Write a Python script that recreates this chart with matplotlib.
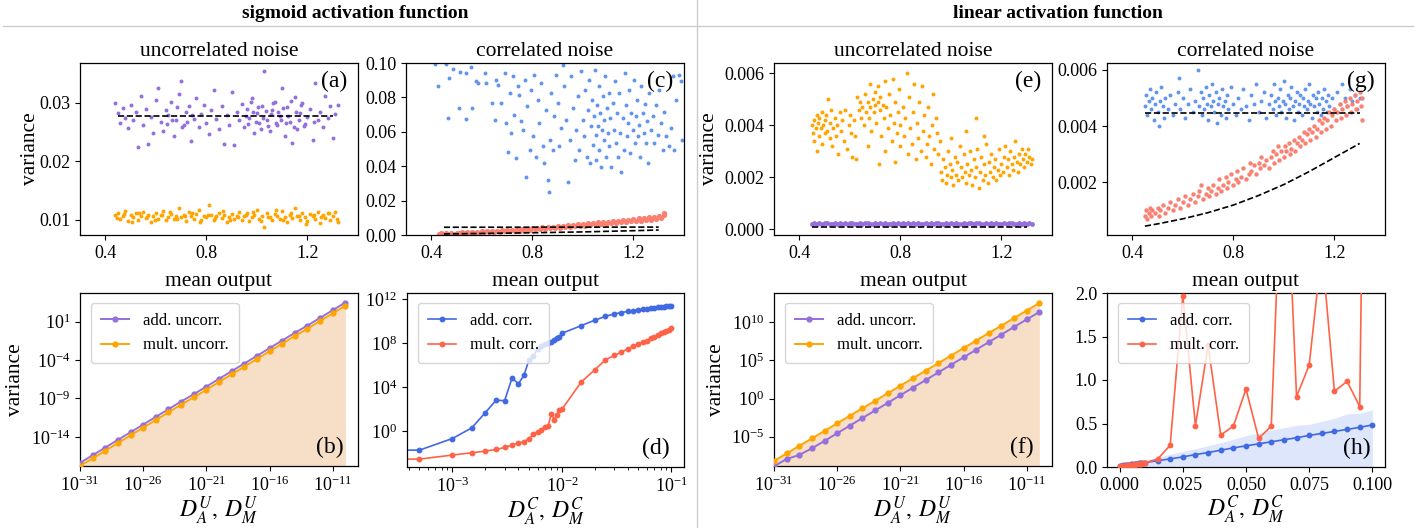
import numpy as np
import matplotlib
matplotlib.use("Agg")
import matplotlib.pyplot as plt
from matplotlib.lines import Line2D
from matplotlib.ticker import NullLocator, FixedLocator, LogFormatterSciNotation

plt.rcParams['font.family'] = ['Liberation Serif', 'DejaVu Serif']
plt.rcParams['mathtext.fontset'] = 'stix'

# ---------------- data ----------------
A_PURPLE = [(.44,.0300),(.45,.0282),(.46,.0265),(.47,.0291),(.48,.0274),(.49,.0257),(.50,.0296),(.51,.0270),(.52,.0284),(.53,.0225),(.54,.0312),(.55,.0262),(.56,.0290),(.57,.0229),(.58,.0276),(.59,.0249),(.60,.0305),(.61,.0326),(.62,.0268),(.63,.0252),(.64,.0288),(.645,.0263),(.65,.0279),(.66,.0301),(.665,.0271),(.67,.0243),(.68,.0270),(.685,.0292),(.69,.0315),(.70,.0338),(.705,.0258),(.71,.0262),(.72,.0284),(.725,.0267),(.73,.0295),(.74,.0234),(.745,.0279),(.75,.0272),(.76,.0309),(.77,.0258),(.78,.0281),(.79,.0296),(.80,.0266),(.81,.0246),(.82,.0288),(.83,.0321),(.84,.0272),(.85,.0255),(.86,.0294),(.87,.0230),(.88,.0279),(.89,.0262),(.90,.0318),(.91,.0227),(.92,.0284),(.93,.0270),(.94,.0298),(.95,.0258),(.955,.0277),(.96,.0290),(.965,.0263),(.97,.0274),(.975,.0302),(.98,.0308),(.985,.0285),(.99,.0248),(.995,.0268),(1.00,.0282),(1.005,.0293),(1.01,.0265),(1.015,.0256),(1.02,.0295),(1.025,.0274),(1.03,.0355),(1.035,.0286),(1.04,.0270),(1.045,.0261),(1.05,.0252),(1.055,.0280),(1.06,.0287),(1.065,.0299),(1.07,.0302),(1.075,.0266),(1.08,.0262),(1.085,.0284),(1.09,.0278),(1.095,.0271),(1.10,.0326),(1.105,.0291),(1.11,.0243),(1.115,.0265),(1.12,.0292),(1.125,.0277),(1.13,.0268),(1.135,.0303),(1.14,.0231),(1.145,.0258),(1.15,.0310),(1.155,.0284),(1.16,.0256),(1.165,.0270),(1.17,.0283),(1.175,.0296),(1.18,.0300),(1.185,.0261),(1.19,.0264),(1.20,.0276),(1.21,.0290),(1.22,.0236),(1.225,.0268),(1.23,.0334),(1.24,.0270),(1.25,.0285),(1.26,.0258),(1.27,.0312),(1.28,.0274),(1.29,.0295),(1.30,.0240),(1.31,.0280),(1.32,.0296)]
A_ORANGE = [(.44,.0108),(.45,.0112),(.46,.0101),(.47,.0106),(.48,.0115),(.49,.0098),(.50,.0109),(.51,.0104),(.52,.0111),(.53,.0100),(.54,.0107),(.55,.0113),(.56,.0103),(.57,.0109),(.58,.0097),(.59,.0106),(.60,.0111),(.61,.0102),(.62,.0108),(.63,.0115),(.64,.0099),(.65,.0105),(.66,.0110),(.67,.0101),(.68,.0107),(.69,.0121),(.70,.0104),(.71,.0109),(.72,.0098),(.73,.0113),(.74,.0106),(.75,.0102),(.76,.0110),(.77,.0117),(.78,.0100),(.79,.0107),(.80,.0104),(.81,.0126),(.82,.0109),(.83,.0099),(.84,.0106),(.85,.0112),(.86,.0103),(.87,.0108),(.88,.0096),(.89,.0105),(.90,.0110),(.91,.0101),(.92,.0107),(.93,.0114),(.94,.0100),(.95,.0106),(.96,.0111),(.97,.0098),(.98,.0104),(.99,.0109),(1.00,.0116),(1.01,.0102),(1.02,.0107),(1.03,.0088),(1.04,.0112),(1.05,.0104),(1.06,.0099),(1.07,.0110),(1.08,.0106),(1.09,.0101),(1.10,.0115),(1.11,.0105),(1.12,.0097),(1.13,.0109),(1.14,.0103),(1.15,.0121),(1.16,.0107),(1.17,.0100),(1.18,.0112),(1.19,.0104),(1.20,.0098),(1.21,.0110),(1.22,.0106),(1.23,.0101),(1.24,.0114),(1.25,.0095),(1.26,.0108),(1.27,.0103),(1.28,.0111),(1.29,.0099),(1.30,.0106),(1.31,.0113),(1.32,.0096),(.445,.0103),(.475,.0110),(.505,.0097),(.535,.0111),(.565,.0105),(.595,.0100),(.625,.0109),(.655,.0113),(.685,.0101),(.715,.0106),(.745,.0111),(.775,.0096),(.805,.0108),(.835,.0103),(.865,.0115),(.895,.0100),(.925,.0104),(.955,.0108),(.985,.0113),(1.015,.0098),(1.045,.0105),(1.075,.0117),(1.105,.0100),(1.135,.0111),(1.165,.0106),(1.195,.0093),(1.225,.0109),(1.255,.0104),(1.285,.0112),(1.315,.0101)]
A_DASH_X = [0.45, 1.30]
A_DASH_Y = [0.0277, 0.0277]

C_BLUE = [(.413,.0996),(.426,.0868),(.459,.0996),(.466,.0680),(.472,.0913),(.486,.0965),(.508,.0738),(.512,.0946),(.536,.0942),(.537,.0674),(.558,.0977),(.561,.0738),(.578,.0893),(.584,.0883),(.611,.0942),(.617,.0883),(.641,.0767),(.654,.0670),(.657,.0903),(.664,.0874),(.677,.0767),(.690,.0942),(.696,.0650),(.703,.0485),(.710,.0825),(.716,.0592),(.723,.0922),(.729,.0699),(.736,.0447),(.743,.0864),(.749,.0816),(.756,.0660),(.762,.0612),(.769,.0899),(.775,.0340),(.779,.0751),(.789,.0495),(.795,.0845),(.802,.0573),(.808,.0932),(.815,.0456),(.822,.0786),(.828,.0650),(.835,.0883),(.841,.0515),(.848,.0417),(.855,.0728),(.861,.0320),(.865,.0252),(.868,.0553),(.874,.0825),(.881,.0495),(.887,.0689),(.894,.0932),(.901,.0767),(.907,.0515),(.914,.0621),(.920,.0990),(.927,.0864),(.934,.0670),(.940,.0311),(.947,.0553),(.953,.0922),(.960,.0738),(.967,.0437),(.973,.0612),(.980,.0806),(.986,.0495),(.993,.0951),(1.000,.0670),(1.006,.0573),(1.010,.0845),(1.015,.0456),(1.019,.0728),(1.026,.0903),(1.028,.0417),(1.032,.0631),(1.036,.0786),(1.039,.0524),(1.043,.0689),(1.047,.0961),(1.050,.0583),(1.052,.0437),(1.056,.0757),(1.059,.0631),(1.063,.0864),(1.065,.0495),(1.068,.0708),(1.072,.0398),(1.076,.0612),(1.079,.0806),(1.082,.0553),(1.085,.0670),(1.089,.0922),(1.092,.0456),(1.096,.0738),(1.098,.0592),(1.102,.0825),(1.105,.0515),(1.109,.0680),(1.113,.0398),(1.118,.0767),(1.122,.0612),(1.126,.0893),(1.131,.0534),(1.135,.0708),(1.139,.0456),(1.144,.0825),(1.148,.0592),(1.152,.0369),(1.158,.0680),(1.162,.0495),(1.165,.0942),(1.171,.0757),(1.175,.0573),(1.179,.0650),(1.184,.0845),(1.188,.0476),(1.192,.0708),(1.197,.0612),(1.201,.0903),(1.205,.0534),(1.210,.0689),(1.214,.0786),(1.218,.0573),(1.223,.0641),(1.227,.0456),(1.231,.0864),(1.237,.0708),(1.241,.0592),(1.245,.0762),(1.250,.0534),(1.254,.0660),(1.258,.0417),(1.263,.0825),(1.270,.0612),(1.276,.0689),(1.283,.0534),(1.289,.0757),(1.296,.0583),(1.302,.0845),(1.309,.0650),(1.316,.0495),(1.322,.0718),(1.329,.0573),(1.339,.0515),(1.349,.0621),(1.355,.0922),(1.362,.0495),(1.368,.0786),(1.379,.0932),(1.388,.0893),(1.392,.0553)]
C_RED = [(.43,.0006),(.44,.0013),(.45,.0004),(.46,.0011),(.47,.0007),(.48,.0014),(.49,.0007),(.50,.0013),(.51,.0009),(.52,.0016),(.53,.0009),(.54,.0015),(.55,.0011),(.56,.0018),(.57,.0012),(.58,.0018),(.59,.0014),(.60,.0021),(.61,.0015),(.62,.0021),(.63,.0017),(.64,.0024),(.65,.0018),(.66,.0025),(.67,.0020),(.68,.0027),(.69,.0021),(.70,.0029),(.71,.0023),(.72,.0031),(.73,.0025),(.74,.0033),(.75,.0026),(.76,.0035),(.77,.0028),(.78,.0037),(.79,.0030),(.80,.0039),(.81,.0032),(.82,.0042),(.83,.0034),(.84,.0044),(.85,.0036),(.86,.0047),(.87,.0039),(.88,.0049),(.89,.0041),(.90,.0052),(.91,.0043),(.92,.0054),(.93,.0046),(.94,.0057),(.95,.0048),(.96,.0060),(.97,.0051),(.98,.0062),(.99,.0053),(1.00,.0065),(1.01,.0055),(1.02,.0067),(1.03,.0058),(1.04,.0070),(1.05,.0060),(1.06,.0073),(1.07,.0063),(1.08,.0075),(1.09,.0066),(1.10,.0078),(1.11,.0068),(1.12,.0081),(1.13,.0071),(1.14,.0084),(1.15,.0074),(1.16,.0087),(1.17,.0076),(1.18,.0090),(1.19,.0079),(1.20,.0093),(1.21,.0082),(1.22,.0096),(1.23,.0084),(1.24,.0099),(1.25,.0087),(1.26,.0102),(1.27,.0090),(1.28,.0105),(1.29,.0093),(1.30,.0108),(1.31,.0096),(1.32,.0115),(1.32,.0130)]
C_DASH1_X = [0.45, 1.30]
C_DASH1_Y = [0.0045, 0.0046]
C_DASH2_X = [0.45, 0.60, 0.80, 1.00, 1.20, 1.30]
C_DASH2_Y = [0.0006, 0.0009, 0.0013, 0.0018, 0.0025, 0.0029]

E_ORANGE = [(.45,.0040),(.455,.0037),(.46,.0042),(.46,.0034),(.465,.0039),(.47,.0044),(.47,.0030),(.475,.0041),(.48,.0036),(.48,.0043),(.485,.0039),(.49,.0045),(.49,.0033),(.495,.0040),(.50,.0037),(.50,.0042),(.505,.0044),(.51,.0038),(.515,.0050),(.52,.0035),(.52,.0041),(.525,.0046),(.53,.0032),(.535,.0039),(.54,.0043),(.545,.0036),(.55,.0040),(.555,.0029),(.56,.0045),(.565,.0038),(.57,.0042),(.575,.0034),(.58,.0046),(.59,.0031),(.595,.0040),(.60,.0044),(.605,.0037),(.61,.0028),(.615,.0042),(.62,.0036),(.625,.0027),(.63,.0051),(.635,.0046),(.64,.0049),(.645,.0043),(.65,.0047),(.655,.0040),(.66,.0052),(.665,.0045),(.67,.0032),(.67,.0049),(.675,.0043),(.68,.0056),(.68,.0047),(.685,.0038),(.69,.0050),(.695,.0045),(.70,.0053),(.70,.0048),(.705,.0041),(.71,.0055),(.71,.0049),(.715,.0025),(.72,.0046),(.72,.0051),(.725,.0036),(.73,.0048),(.735,.0043),(.74,.0057),(.74,.0030),(.745,.0047),(.75,.0039),(.755,.0052),(.76,.0044),(.765,.0034),(.77,.0058),(.775,.0041),(.78,.0049),(.78,.0026),(.785,.0037),(.79,.0045),(.795,.0054),(.80,.0032),(.80,.0040),(.81,.0047),(.815,.0036),(.82,.0043),(.825,.0060),(.83,.0029),(.835,.0051),(.84,.0039),(.845,.0033),(.85,.0045),(.855,.0056),(.86,.0027),(.865,.0041),(.87,.0035),(.875,.0049),(.88,.0030),(.885,.0055),(.89,.0038),(.895,.0044),(.90,.0028),(.905,.0033),(.91,.0047),(.915,.0036),(.92,.0025),(.925,.0040),(.93,.0052),(.935,.0031),(.94,.0043),(.945,.0037),(.95,.0029),(.955,.0034),(.96,.0022),(.965,.0019),(.97,.0027),(.975,.0024),(.98,.0018),(.985,.0021),(.99,.0030),(.995,.0025),(1.00,.0020),(1.00,.0035),(1.005,.0023),(1.01,.0017),(1.015,.0028),(1.02,.0021),(1.025,.0026),(1.03,.0019),(1.035,.0032),(1.04,.0024),(1.045,.0020),(1.05,.0029),(1.055,.0022),(1.06,.0038),(1.06,.0018),(1.065,.0025),(1.07,.0021),(1.075,.0030),(1.08,.0023),(1.085,.0017),(1.09,.0027),(1.095,.0020),(1.10,.0024),(1.10,.0043),(1.105,.0031),(1.11,.0016),(1.115,.0022),(1.12,.0028),(1.125,.0019),(1.13,.0025),(1.13,.0036),(1.135,.0021),(1.14,.0033),(1.145,.0018),(1.15,.0026),(1.155,.0022),(1.16,.0029),(1.165,.0020),(1.17,.0024),(1.175,.0027),(1.18,.0019),(1.185,.0023),(1.19,.0031),(1.195,.0021),(1.20,.0025),(1.205,.0022),(1.21,.0028),(1.215,.0032),(1.22,.0024),(1.225,.0027),(1.23,.0021),(1.235,.0030),(1.24,.0025),(1.245,.0023),(1.25,.0028),(1.255,.0034),(1.26,.0026),(1.265,.0022),(1.27,.0029),(1.275,.0025),(1.28,.0031),(1.285,.0027),(1.29,.0024),(1.295,.0029),(1.30,.0026),(1.305,.0031),(1.31,.0028),(1.315,.0025),(1.32,.0027)]
E_PURPLE_X = [.45,.46,.47,.48,.49,.50,.51,.52,.53,.54,.55,.56,.57,.58,.59,.60,.61,.62,.63,.64,.65,.66,.67,.68,.69,.70,.71,.72,.73,.74,.75,.76,.77,.78,.79,.80,.81,.82,.83,.84,.85,.86,.87,.88,.89,.90,.91,.92,.93,.94,.95,.96,.97,.98,.99,1.00,1.01,1.02,1.03,1.04,1.05,1.06,1.07,1.08,1.09,1.10,1.11,1.12,1.13,1.14,1.15,1.16,1.17,1.18,1.19,1.20,1.21,1.22,1.23,1.24,1.25,1.26,1.27,1.28,1.29,1.30,1.31,1.32]
E_PURPLE_Y = [.000215,.000228,.000205,.000232,.000212,.000225,.000238,.000208,.000220,.000231,.000203,.000226,.000214,.000235,.000210,.000223,.000229,.000206,.000218,.000236,.000211,.000224,.000230,.000204,.000221,.000233,.000213,.000227,.000209,.000234,.000219,.000207,.000228,.000216,.000237,.000212,.000225,.000203,.000231,.000217,.000226,.000210,.000234,.000222,.000206,.000229,.000215,.000236,.000211,.000224,.000230,.000205,.000219,.000233,.000213,.000227,.000208,.000235,.000220,.000214,.000231,.000207,.000225,.000238,.000212,.000223,.000229,.000204,.000218,.000234,.000216,.000226,.000209,.000232,.000221,.000213,.000237,.000210,.000224,.000228,.000206,.000219,.000235,.000215,.000227,.000211,.000233,.000222]
E_DASH_X = [0.45, 1.30]
E_DASH_Y = [0.00007, 0.00007]

G_BLUE = [(.45,.0047),(.455,.0051),(.46,.0044),(.465,.0049),(.47,.0053),(.475,.0046),(.48,.0050),(.485,.0042),(.49,.0048),(.495,.0052),(.50,.0045),(.505,.0040),(.51,.0049),(.515,.0054),(.52,.0047),(.525,.0043),(.53,.0050),(.54,.0046),(.55,.0051),(.56,.0044),(.57,.0048),(.58,.0052),(.585,.0057),(.59,.0046),(.60,.0050),(.61,.0043),(.62,.0048),(.63,.0053),(.64,.0045),(.65,.0049),(.66,.0060),(.665,.0047),(.67,.0052),(.675,.0044),(.68,.0050),(.685,.0046),(.69,.0054),(.695,.0048),(.70,.0042),(.705,.0051),(.71,.0047),(.715,.0055),(.72,.0049),(.725,.0045),(.73,.0052),(.735,.0041),(.74,.0048),(.745,.0050),(.75,.0044),(.755,.0053),(.76,.0047),(.765,.0049),(.77,.0043),(.775,.0051),(.78,.0046),(.79,.0054),(.80,.0048),(.81,.0044),(.82,.0050),(.83,.0046),(.84,.0053),(.85,.0047),(.86,.0042),(.87,.0051),(.88,.0048),(.89,.0055),(.90,.0045),(.91,.0049),(.92,.0052),(.93,.0043),(.94,.0048),(.95,.0051),(.955,.0046),(.96,.0055),(.965,.0049),(.97,.0044),(.975,.0050),(.98,.0047),(.985,.0053),(.99,.0045),(.995,.0049),(1.00,.0056),(1.005,.0048),(1.01,.0043),(1.015,.0051),(1.02,.0046),(1.025,.0050),(1.03,.0054),(1.035,.0047),(1.04,.0042),(1.045,.0049),(1.05,.0052),(1.055,.0045),(1.06,.0048),(1.065,.0051),(1.07,.0044),(1.075,.0050),(1.08,.0047),(1.085,.0053),(1.09,.0046),(1.095,.0049),(1.10,.0055),(1.105,.0048),(1.11,.0043),(1.115,.0051),(1.12,.0047),(1.125,.0050),(1.13,.0045),(1.135,.0052),(1.14,.0048),(1.145,.0044),(1.15,.0050),(1.155,.0046),(1.16,.0053),(1.165,.0049),(1.17,.0045),(1.175,.0051),(1.18,.0047),(1.19,.0050),(1.20,.0046),(1.21,.0052),(1.22,.0048),(1.23,.0055),(1.24,.0050),(1.25,.0047),(1.26,.0053),(1.27,.0049),(1.28,.0051),(1.29,.0046),(1.30,.0050)]
G_RED = [(.45,.0008),(.455,.0010),(.46,.0007),(.465,.0009),(.47,.0011),(.475,.0008),(.48,.0010),(.49,.0009),(.50,.0011),(.505,.0008),(.51,.0010),(.52,.0012),(.53,.0009),(.54,.0011),(.55,.0013),(.56,.0010),(.57,.0012),(.58,.0014),(.59,.0011),(.60,.0013),(.61,.0015),(.62,.0012),(.63,.0014),(.64,.0016),(.65,.0013),(.66,.0015),(.665,.0017),(.67,.0019),(.68,.0014),(.69,.0016),(.70,.0018),(.705,.0015),(.71,.0017),(.72,.0019),(.73,.0016),(.74,.0018),(.745,.0021),(.75,.0017),(.76,.0019),(.77,.0022),(.775,.0018),(.78,.0020),(.79,.0023),(.80,.0019),(.81,.0021),(.815,.0024),(.82,.0020),(.83,.0022),(.84,.0025),(.85,.0021),(.86,.0023),(.865,.0027),(.87,.0024),(.88,.0026),(.89,.0023),(.90,.0027),(.905,.0025),(.91,.0029),(.92,.0026),(.93,.0028),(.94,.0025),(.95,.0029),(.955,.0031),(.96,.0027),(.97,.0030),(.975,.0033),(.98,.0028),(.99,.0031),(1.00,.0029),(1.005,.0033),(1.01,.0031),(1.02,.0034),(1.025,.0030),(1.03,.0032),(1.04,.0035),(1.045,.0031),(1.05,.0034),(1.06,.0036),(1.065,.0033),(1.07,.0035),(1.08,.0038),(1.085,.0034),(1.09,.0037),(1.10,.0039),(1.105,.0035),(1.11,.0038),(1.12,.0040),(1.125,.0036),(1.13,.0039),(1.14,.0042),(1.145,.0038),(1.15,.0041),(1.16,.0043),(1.165,.0039),(1.17,.0042),(1.18,.0045),(1.185,.0040),(1.19,.0044),(1.20,.0046),(1.205,.0042),(1.21,.0045),(1.22,.0048),(1.225,.0043),(1.23,.0046),(1.24,.0049),(1.245,.0044),(1.25,.0047),(1.26,.0050),(1.265,.0045),(1.27,.0048),(1.28,.0051),(1.285,.0046),(1.29,.0049),(1.30,.0052),(1.305,.0047),(1.31,.0050),(1.31,.0042)]
G_DASH1_X = [0.45, 1.30]
G_DASH1_Y = [0.00445, 0.00445]
G_DASH2_X = [0.45, 0.50, 0.60, 0.70, 0.80, 0.90, 1.00, 1.10, 1.20, 1.30]
G_DASH2_Y = [0.00044, 0.00052, 0.00070, 0.00092, 0.00119, 0.00153, 0.00192, 0.00238, 0.00288, 0.00338]

# mean-output panels, uncorrelated noise (noise strengths 1e-31 ... 1e-10)
D_U = [1e-31, 1e-30, 1e-29, 1e-28, 1e-27, 1e-26, 1e-25, 1e-24, 1e-23, 1e-22, 1e-21,
       1e-20, 1e-19, 1e-18, 1e-17, 1e-16, 1e-15, 1e-14, 1e-13, 1e-12, 1e-11, 1e-10]
B_PURPLE_LOG = [-17.4, -16.4, -15.4, -14.4, -13.4, -12.4, -11.4, -10.4, -9.4, -8.45, -7.45,
                -6.45, -5.45, -4.45, -3.45, -2.45, -1.45, -0.45, 0.5, 1.5, 2.5, 3.5]
B_ORANGE_LOG = [-17.8, -16.8, -15.8, -14.8, -13.8, -12.8, -11.8, -10.8, -9.8, -8.85, -7.85,
                -6.85, -5.85, -4.85, -3.85, -2.85, -1.85, -0.85, 0.1, 1.1, 2.1, 3.1]
F_PURPLE_LOG = [-8.9, -7.94, -7.41, -6.54, -5.57, -4.56, -3.56, -2.56, -1.57, -0.57, 0.43,
                1.43, 2.42, 3.42, 4.42, 5.41, 6.41, 7.41, 8.40, 9.40, 10.39, 11.36]
F_ORANGE_LOG = [-8.2, -7.21, -6.22, -5.24, -4.25, -3.26, -2.27, -1.28, -0.30, 0.69, 1.68,
                2.67, 3.66, 4.64, 5.63, 6.62, 7.61, 8.60, 9.58, 10.57, 11.56, 12.55]

# mean-output panels, correlated noise
D_C = [0, 0.0005, 0.001, 0.0015, 0.002, 0.0025, 0.003, 0.0035, 0.004, 0.0045, 0.005,
       0.0055, 0.006, 0.0065, 0.007, 0.0075, 0.008, 0.0085, 0.009, 0.0095, 0.01,
       0.015, 0.02, 0.025, 0.03, 0.035, 0.04, 0.045, 0.05, 0.055, 0.06, 0.065, 0.07,
       0.075, 0.08, 0.085, 0.09, 0.095, 0.1]
D_BLUE_LOG = [-1.9, -1.76, -0.70, 0.27, 1.67, 2.79, 2.76, 4.82, 4.30, 5.06, 6.48, 6.82, 7.5,
              7.7, 7.9, 8.0, 8.1, 8.25, 8.5, 8.6, 8.9, 9.6, 10.1, 10.45, 10.67, 10.8, 10.9,
              10.97, 11.06, 11.1, 11.15, 11.2, 11.24, 11.27, 11.3, 11.33, 11.36, 11.39, 11.42]
D_RED_LOG = [-2.67, -2.58, -2.21, -2.0, -1.85, -1.70, -1.52, -1.30, -1.12, -1.0, -0.70, -0.33,
             -0.09, 0.12, 0.36, 0.45, 1.58, 1.03, 1.48, 1.88, 1.97, 4.45, 5.58, 6.48, 6.88,
             7.18, 7.48, 7.7, 7.94, 8.09, 8.24, 8.48, 8.6, 8.79, 8.94, 9.06, 9.15, 9.24, 9.39]
H_BLUE = [.012, .014, .016, .018, .020, .022, .024, .025, .027, .029, .031, .033, .035, .037,
          .039, .041, .043, .045, .047, .049, .051, .072, .093, .116, .143, .166, .193, .22,
          .243, .266, .29, .313, .336, .363, .386, .409, .432, .456, .483]
H_BLUE_UPPER = [.012, .016, .019, .022, .025, .028, .031, .034, .037, .040, .043, .046, .049,
                .052, .055, .058, .061, .064, .067, .070, .077, .11, .147, .18, .21, .245, .28,
                .32, .36, .39, .425, .45, .48, .49, .525, .56, .61, .618, .656]
H_RED = [.008, .009, .011, .012, .014, .016, .018, .019, .021, .023, .025, .027, .029, .031,
         .033, .036, .038, .040, .043, .046, .049, .09, .25, 1.97, .475, 1.40, .367, .47, .896,
         .328, .47, 4.2, .81, 1.17, 2.5, .87, .985, .695, 12.0]

# ---------------- styles ----------------
PURPLE = '#9370DB'
ORANGE = '#FFA500'
SC_BLUE = '#6495ED'
SC_RED = '#FA8072'
LN_BLUE = '#4169E1'
LN_RED = '#FF6347'
FILL_PEACH = '#f6dfc6'
FILL_BLUE = '#dde6fa'

W, H = 1416, 528
fig = plt.figure(figsize=(W / 100, H / 100), dpi=100)


def rect(l, r, t, b):
    return [l / W, 1 - b / H, (r - l) / W, (b - t) / H]


TICK_FS = 13
LAB_FS = 15.5
SUB_FS = 15.5
XLAB_FS = 17
LEG_FS = 12
LEG_KW = dict(loc='upper left', fontsize=LEG_FS, borderpad=0.6, handlelength=1.7,
              labelspacing=0.5, bbox_to_anchor=(0.01, 0.99))


def style(ax):
    ax.tick_params(labelsize=TICK_FS, direction='out', length=3.5, width=0.8)
    for s in ax.spines.values():
        s.set_linewidth(0.9)


def panel_label(ax, txt, top=True, x=0.955):
    if top:
        ax.text(x, 0.955, txt, transform=ax.transAxes, ha='right', va='top', fontsize=17)
    else:
        ax.text(x, 0.045, txt, transform=ax.transAxes, ha='right', va='bottom', fontsize=17)


def scat(ax, pts, color, s=8):
    xs, ys = zip(*pts)
    ax.scatter(xs, ys, s=s, color=color, linewidths=0)


ax_a = fig.add_axes(rect(80, 358, 63, 235))
ax_c = fig.add_axes(rect(406, 684, 63, 235))
ax_e = fig.add_axes(rect(774, 1052, 63, 235))
ax_g = fig.add_axes(rect(1107, 1385, 63, 235))
ax_b = fig.add_axes(rect(80, 358, 293, 466))
ax_d = fig.add_axes(rect(407, 684, 293, 467))
ax_f = fig.add_axes(rect(774, 1052, 293, 466))
ax_h = fig.add_axes(rect(1107, 1385, 293, 467))

# (a)
scat(ax_a, A_PURPLE, PURPLE)
scat(ax_a, A_ORANGE, ORANGE)
ax_a.plot(A_DASH_X, A_DASH_Y, 'k--', lw=1.2)
ax_a.set_ylim(0.0074, 0.0368)
ax_a.set_yticks([0.01, 0.02, 0.03])
ax_a.set_ylabel('variance', fontsize=LAB_FS, labelpad=-1)
ax_a.set_title('uncorrelated noise', fontsize=SUB_FS, pad=5)
panel_label(ax_a, '(a)', x=0.962)

# (c)
scat(ax_c, C_BLUE, SC_BLUE)
scat(ax_c, C_RED, SC_RED, s=14)
ax_c.plot(C_DASH1_X, C_DASH1_Y, 'k--', lw=1.2)
ax_c.plot(C_DASH2_X, C_DASH2_Y, 'k--', lw=1.2)
ax_c.set_ylim(0, 0.1)
ax_c.set_yticks([0, 0.02, 0.04, 0.06, 0.08, 0.10])
ax_c.set_yticklabels(['0.00', '0.02', '0.04', '0.06', '0.08', '0.10'])
ax_c.set_title('correlated noise', fontsize=SUB_FS, pad=5)
panel_label(ax_c, '(c)', x=0.962)

# (e)
scat(ax_e, E_ORANGE, ORANGE)
ax_e.scatter(E_PURPLE_X, E_PURPLE_Y, s=12, color=PURPLE, linewidths=0)
ax_e.plot(E_DASH_X, E_DASH_Y, 'k--', lw=1.2)
ax_e.set_ylim(-0.00022, 0.0064)
ax_e.set_yticks([0, 0.002, 0.004, 0.006])
ax_e.set_yticklabels(['0.000', '0.002', '0.004', '0.006'])
ax_e.set_ylabel('variance', fontsize=LAB_FS)
ax_e.set_title('uncorrelated noise', fontsize=SUB_FS, pad=5)
panel_label(ax_e, '(e)', x=0.962)

# (g)
scat(ax_g, G_BLUE, SC_BLUE)
scat(ax_g, G_RED, SC_RED, s=10)
ax_g.plot(G_DASH1_X, G_DASH1_Y, 'k--', lw=1.2)
ax_g.plot(G_DASH2_X, G_DASH2_Y, 'k--', lw=1.2)
ax_g.set_ylim(0.000125, 0.00624)
ax_g.set_yticks([0.002, 0.004, 0.006])
ax_g.set_yticklabels(['0.002', '0.004', '0.006'])
ax_g.set_title('correlated noise', fontsize=SUB_FS, pad=5)
panel_label(ax_g, '(g)', x=0.962)

for ax in (ax_a, ax_c, ax_e, ax_g):
    ax.set_xlim(0.3, 1.4)
    ax.set_xticks([0.4, 0.8, 1.2])
    ax.set_xticklabels(['0.4', '0.8', '1.2'])
    style(ax)


def log_u_axes(ax, plog, olog, ylim, yticks):
    x = np.array(D_U)
    p = 10 ** np.array(plog)
    o = 10 ** np.array(olog)
    ax.fill_between(x, 1e-40, o, color=FILL_PEACH, lw=0, zorder=1)
    hp, = ax.plot(x, p, '-o', color=PURPLE, ms=3.5, lw=1.4, label='add. uncorr.', zorder=3)
    ho, = ax.plot(x, o, '-o', color=ORANGE, ms=3.5, lw=1.4, label='mult. uncorr.', zorder=3)
    ax.set_xscale('log')
    ax.set_yscale('log')
    ax.set_xlim(1e-31, 10 ** -9.0)
    ax.set_ylim(*ylim)
    ax.xaxis.set_major_locator(FixedLocator([1e-31, 1e-26, 1e-21, 1e-16, 1e-11]))
    ax.yaxis.set_major_locator(FixedLocator(yticks))
    ax.xaxis.set_major_formatter(LogFormatterSciNotation())
    ax.yaxis.set_major_formatter(LogFormatterSciNotation())
    ax.xaxis.set_minor_locator(NullLocator())
    ax.yaxis.set_minor_locator(NullLocator())
    ax.legend(handles=[hp, ho], **LEG_KW)
    ax.set_ylabel('variance', fontsize=LAB_FS)
    ax.set_xlabel(r'$D_A^U,\, D_M^U$', fontsize=XLAB_FS, labelpad=0)
    ax.set_title('mean output', fontsize=SUB_FS, pad=5)
    style(ax)


log_u_axes(ax_b, B_PURPLE_LOG, B_ORANGE_LOG, (10 ** -17.8, 10 ** 4.74),
           [1e-14, 1e-9, 1e-4, 1e1])
panel_label(ax_b, '(b)', top=False, x=0.95)
log_u_axes(ax_f, F_PURPLE_LOG, F_ORANGE_LOG, (10 ** -8.86, 10 ** 13.86),
           [1e-5, 1e0, 1e5, 1e10])
panel_label(ax_f, '(f)', top=False, x=0.935)

# (d)
ax_d.set_xscale('log', nonpositive='clip')
ax_d.set_yscale('log')
hb, = ax_d.plot(D_C, 10 ** np.array(D_BLUE_LOG), '-o', color=LN_BLUE, ms=3.2, lw=1.2,
                label='add. corr.')
hr, = ax_d.plot(D_C, 10 ** np.array(D_RED_LOG), '-o', color=LN_RED, ms=3.2, lw=1.2,
                label='mult. corr.')
ax_d.set_xlim(10 ** -3.415, 10 ** -0.885)
ax_d.set_ylim(10 ** -3.3, 10 ** 12.58)
ax_d.yaxis.set_major_locator(FixedLocator([1e0, 1e4, 1e8, 1e12]))
ax_d.yaxis.set_minor_locator(NullLocator())
ax_d.yaxis.set_major_formatter(LogFormatterSciNotation())
ax_d.legend(handles=[hb, hr], **LEG_KW)
ax_d.set_xlabel(r'$D_A^C,\, D_M^C$', fontsize=XLAB_FS, labelpad=0)
ax_d.set_title('mean output', fontsize=SUB_FS, pad=5)
style(ax_d)
ax_d.tick_params(which='minor', length=2, width=0.6)
panel_label(ax_d, '(d)', top=False, x=0.947)

# (h)
ax_h.fill_between(D_C, 0, H_BLUE_UPPER, color=FILL_BLUE, lw=0, zorder=1)
hb2, = ax_h.plot(D_C, H_BLUE, '-o', color=LN_BLUE, ms=3.2, lw=1.2, label='add. corr.', zorder=3)
hr2, = ax_h.plot(D_C, H_RED, '-o', color=LN_RED, ms=3.2, lw=1.2, label='mult. corr.', zorder=3)
ax_h.set_xlim(-0.005, 0.105)
ax_h.set_ylim(0, 2.0)
ax_h.set_xticks([0, 0.025, 0.05, 0.075, 0.1])
ax_h.set_xticklabels(['0.000', '0.025', '0.050', '0.075', '0.100'])
ax_h.set_yticks([0, 0.5, 1.0, 1.5, 2.0])
ax_h.set_yticklabels(['0.0', '0.5', '1.0', '1.5', '2.0'])
ax_h.legend(handles=[hb2, hr2], **LEG_KW)
ax_h.set_xlabel(r'$D_A^C,\, D_M^C$', fontsize=XLAB_FS, labelpad=0)
ax_h.set_title('mean output', fontsize=SUB_FS, pad=5)
style(ax_h)
panel_label(ax_h, '(h)', top=False, x=0.947)

# figure-level titles and separators
fig.text(355 / W, 1 - 14 / H, 'sigmoid activation function', ha='center', va='center',
         fontsize=14, fontweight='bold')
fig.text(1058 / W, 1 - 14 / H, 'linear activation function', ha='center', va='center',
         fontsize=14, fontweight='bold')
fig.add_artist(Line2D([3 / W, 1413 / W], [1 - 26 / H, 1 - 26 / H], transform=fig.transFigure,
                      color='#cccccc', lw=1))
fig.add_artist(Line2D([697 / W, 697 / W], [0, 1], transform=fig.transFigure,
                      color='#cccccc', lw=1))

fig.savefig('out.png', dpi=100)
